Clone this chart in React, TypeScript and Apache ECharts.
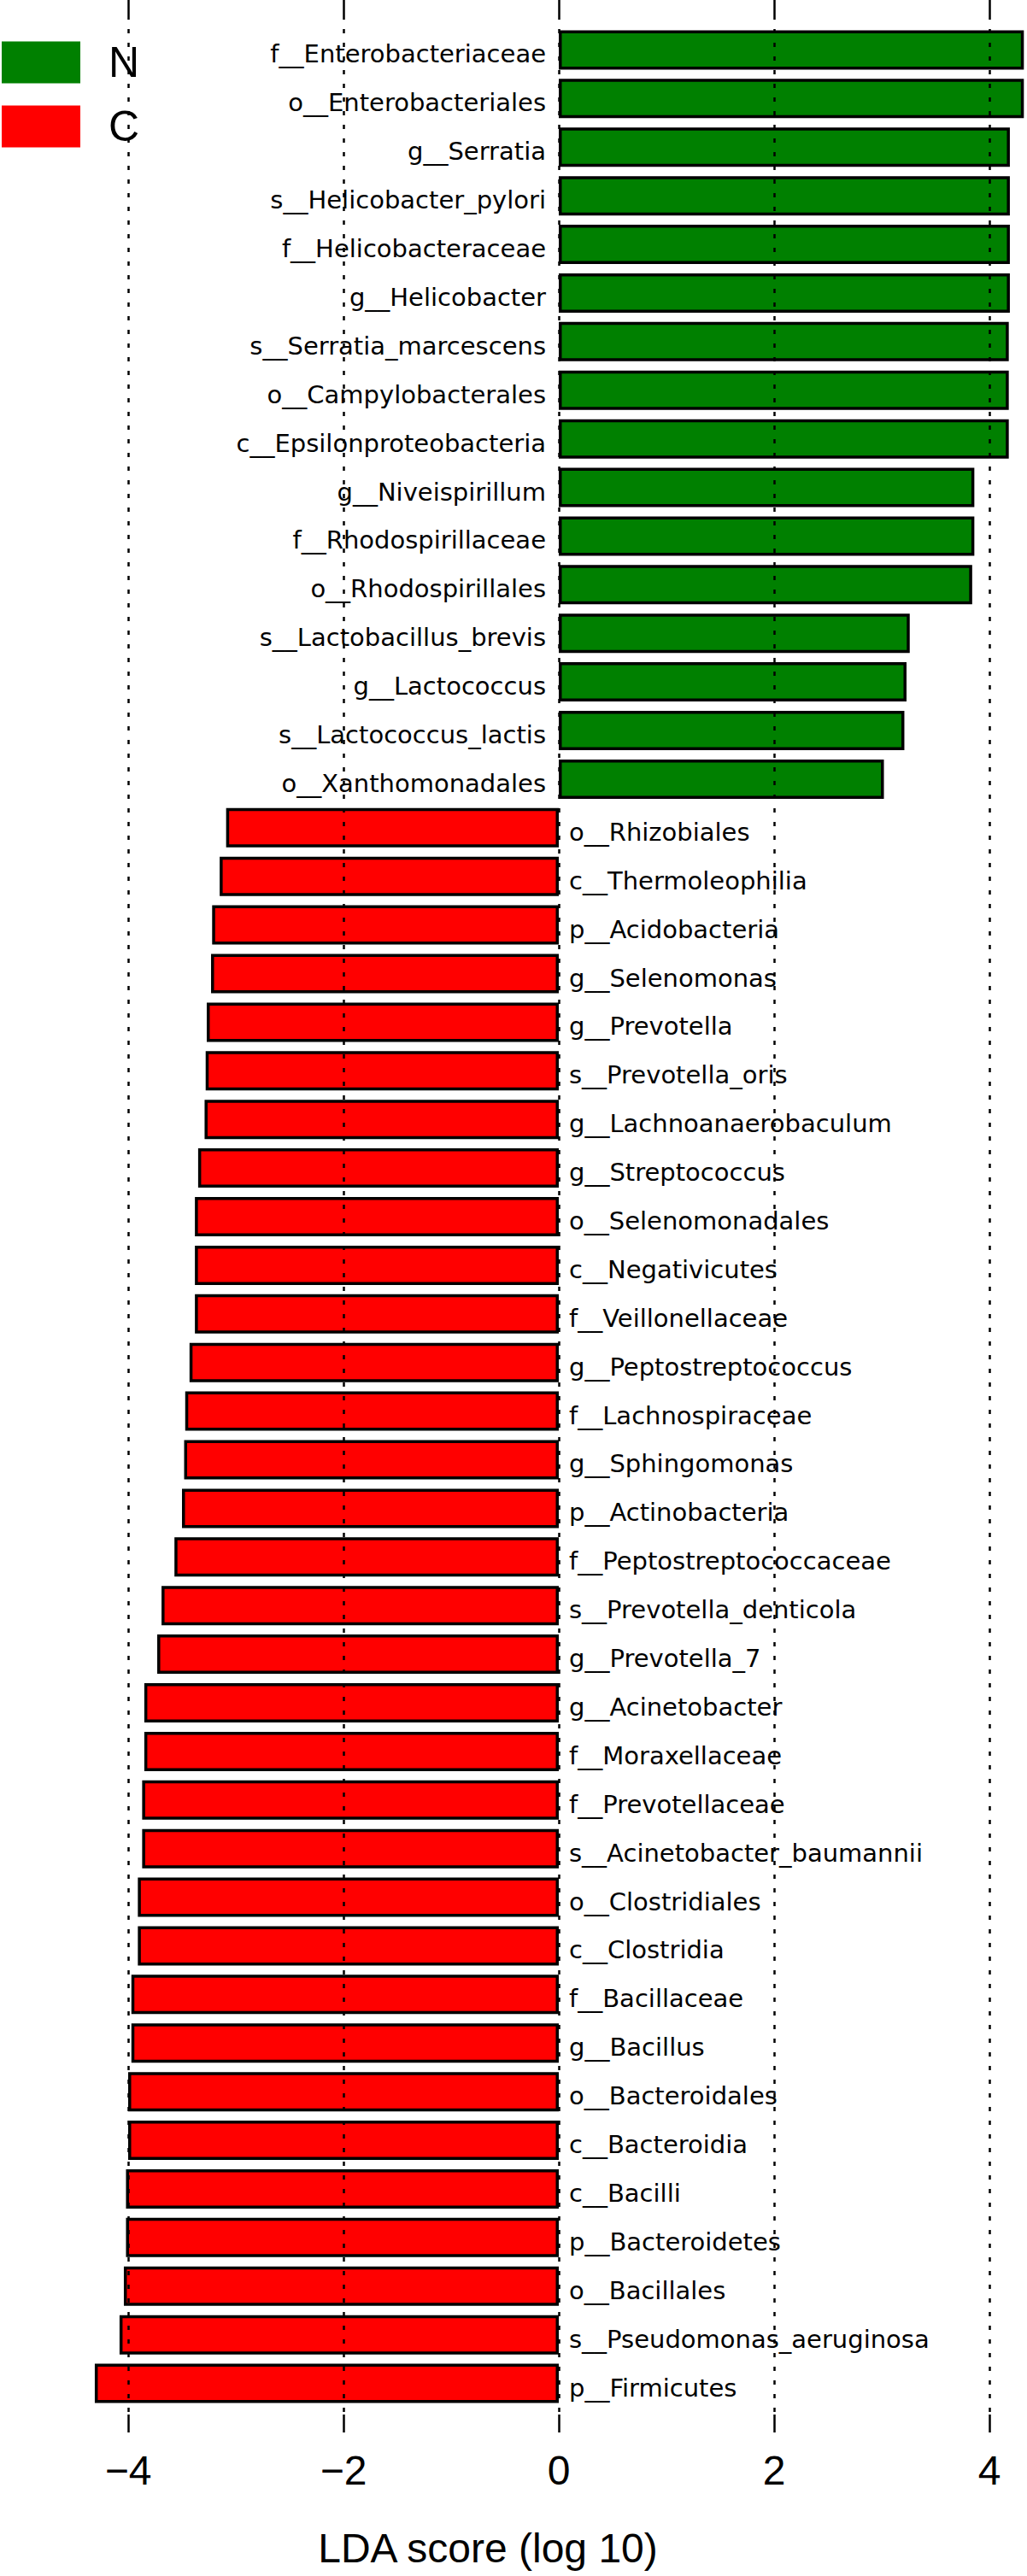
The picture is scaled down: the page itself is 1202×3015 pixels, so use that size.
import React, { useEffect, useRef } from "react";
import * as echarts from "echarts";

const categories: string[] = [
  "f__Enterobacteriaceae",
  "o__Enterobacteriales",
  "g__Serratia",
  "s__Helicobacter_pylori",
  "f__Helicobacteraceae",
  "g__Helicobacter",
  "s__Serratia_marcescens",
  "o__Campylobacterales",
  "c__Epsilonproteobacteria",
  "g__Niveispirillum",
  "f__Rhodospirillaceae",
  "o__Rhodospirillales",
  "s__Lactobacillus_brevis",
  "g__Lactococcus",
  "s__Lactococcus_lactis",
  "o__Xanthomonadales",
  "o__Rhizobiales",
  "c__Thermoleophilia",
  "p__Acidobacteria",
  "g__Selenomonas",
  "g__Prevotella",
  "s__Prevotella_oris",
  "g__Lachnoanaerobaculum",
  "g__Streptococcus",
  "o__Selenomonadales",
  "c__Negativicutes",
  "f__Veillonellaceae",
  "g__Peptostreptococcus",
  "f__Lachnospiraceae",
  "g__Sphingomonas",
  "p__Actinobacteria",
  "f__Peptostreptococcaceae",
  "s__Prevotella_denticola",
  "g__Prevotella_7",
  "g__Acinetobacter",
  "f__Moraxellaceae",
  "f__Prevotellaceae",
  "s__Acinetobacter_baumannii",
  "o__Clostridiales",
  "c__Clostridia",
  "f__Bacillaceae",
  "g__Bacillus",
  "o__Bacteroidales",
  "c__Bacteroidia",
  "c__Bacilli",
  "p__Bacteroidetes",
  "o__Bacillales",
  "s__Pseudomonas_aeruginosa",
  "p__Firmicutes",
];

// LDA scores of group N (first 16 categories)
const nValues: number[] = [
  4.32, 4.32, 4.19, 4.19, 4.19, 4.19, 4.18, 4.18, 4.18, 3.86, 3.86, 3.84,
  3.26, 3.23, 3.21, 3.02,
];

// LDA scores of group C (remaining 33 categories)
const cValues: number[] = [
  -3.09, -3.15, -3.22, -3.23, -3.27, -3.28, -3.29, -3.35, -3.38, -3.38, -3.38,
  -3.43, -3.47, -3.48, -3.5, -3.57, -3.69, -3.73, -3.85, -3.85, -3.87, -3.87,
  -3.91, -3.91, -3.97, -3.97, -4.0, -4.0, -4.02, -4.02, -4.04, -4.08, -4.31,
];

const groupNames: string[] = ["N", "C"];
const axisTitle = "LDA score (log 10)";

// The chart canvas is wider than the page (the axis runs -6..6); the page shows a window of it.
const SHIFT = 102;

export default function App() {
  const ref = useRef<HTMLDivElement>(null);

  useEffect(() => {
    if (!ref.current) return;
    const chart = echarts.init(ref.current, undefined, { renderer: "svg" });

    const nData = categories.map((_, i) =>
      i < nValues.length ? nValues[i] : "-"
    );
    const cData = categories.map((_, i) =>
      i >= nValues.length ? cValues[i - nValues.length] : "-"
    );

    const tickFormatter = (v: number) => {
      if (Math.abs(v) >= 6) return "";
      return v < 0 ? "\u2212" + Math.abs(v) : String(v);
    };

    const tickStyle = { show: true, length: 21, lineStyle: { width: 2.5, color: "#000" } };

    const labelBase = {
      show: true,
      formatter: "{b}",
      fontFamily: "DejaVu Sans",
      fontSize: 29,
      color: "#000",
      offset: [0, 5],
    };

    const legendText = {
      fontFamily: "Liberation Sans",
      fontSize: 50,
      color: "#000",
    };

    chart.setOption({
      animation: false,
      backgroundColor: "#ffffff",
      legend: {
        data: [
          { name: groupNames[0], textStyle: { ...legendText, padding: [0, 0, 2, 28] } },
          { name: groupNames[1], textStyle: { ...legendText, padding: [0, 0, 16, 28] } },
        ],
        orient: "vertical",
        left: 2 + SHIFT,
        top: 48,
        padding: 0,
        itemWidth: 92,
        itemHeight: 49,
        itemGap: 25,
        icon: "rect",
        selectedMode: false,
        itemStyle: { borderWidth: 0 },
        textStyle: legendText,
      },
      grid: [
        { left: 0, right: 0, top: 30, height: 2788, containLabel: false, outerBoundsMode: "none" },
        { left: 0, right: 0, top: 18, height: 2808, containLabel: false, outerBoundsMode: "none" },
      ],
      xAxis: [
        { gridIndex: 0, type: "value", min: -6, max: 6, interval: 2, show: false },
        {
          gridIndex: 1,
          type: "value",
          position: "bottom",
          min: -6,
          max: 6,
          interval: 2,
          z: 5,
          axisLine: { show: false, onZero: false },
          axisTick: tickStyle,
          splitLine: {
            show: true,
            lineStyle: { type: [5, 11], width: 2.5, color: "#000" },
          },
          axisLabel: {
            margin: 41,
            fontSize: 48,
            fontFamily: "Liberation Sans",
            color: "#000",
            formatter: tickFormatter,
          },
        },
        {
          gridIndex: 1,
          type: "value",
          position: "top",
          min: -6,
          max: 6,
          interval: 2,
          z: 5,
          axisLine: { show: false, onZero: false },
          axisTick: tickStyle,
          axisLabel: { show: false },
          splitLine: { show: false },
        },
      ],
      yAxis: [
        { gridIndex: 0, type: "category", data: categories, inverse: true, show: false },
        { gridIndex: 1, type: "value", min: 0, max: 1, show: false },
      ],
      series: [
        {
          name: groupNames[0],
          type: "bar",
          xAxisIndex: 0,
          yAxisIndex: 0,
          stack: "lda",
          data: nData,
          barWidth: 46,
          itemStyle: { color: "#008000", borderColor: "#000", borderWidth: 3.5 },
          label: { ...labelBase, position: "left", distance: 15 },
        },
        {
          name: groupNames[1],
          type: "bar",
          xAxisIndex: 0,
          yAxisIndex: 0,
          stack: "lda",
          data: cData,
          barWidth: 46,
          itemStyle: { color: "#ff0000", borderColor: "#000", borderWidth: 3.5 },
          label: { ...labelBase, position: "right", distance: 12 },
        },
      ],
      graphic: [
        {
          type: "text",
          x: 571 + SHIFT,
          y: 2982,
          style: {
            text: axisTitle,
            font: '48px "Liberation Sans"',
            fill: "#000",
            align: "center",
            verticalAlign: "middle",
          },
        },
      ],
    });

    return () => chart.dispose();
  }, []);

  return (
    <div
      style={{
        position: "absolute",
        left: 0,
        top: 0,
        width: 1202,
        height: 3015,
        overflow: "hidden",
        background: "#fff",
      }}
    >
      <div
        ref={ref}
        style={{ position: "absolute", left: -SHIFT, top: 0, width: 1512, height: 3015 }}
      />
    </div>
  );
}
